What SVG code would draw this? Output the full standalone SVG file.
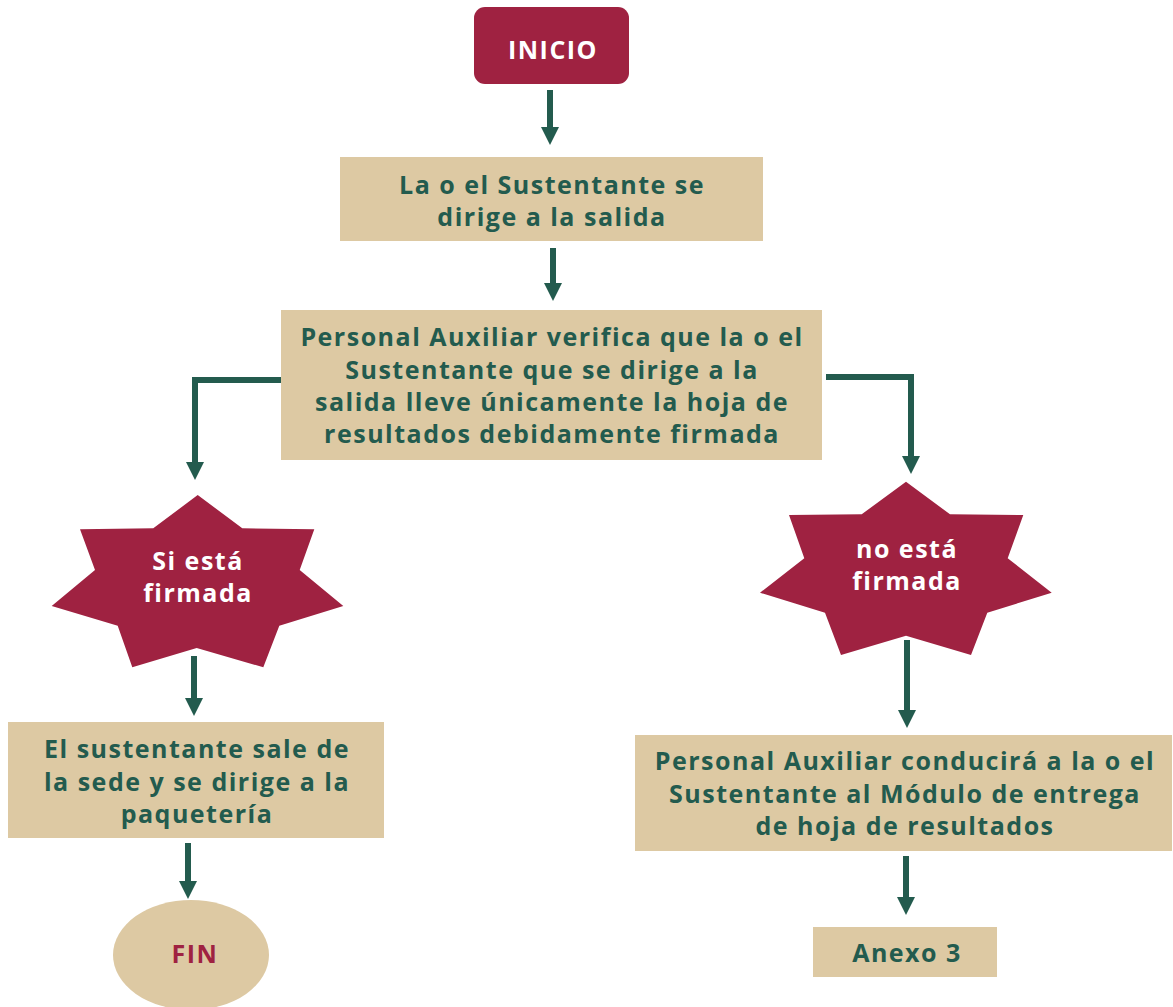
<svg xmlns="http://www.w3.org/2000/svg" width="1173" height="1007" viewBox="0 0 1173 1007">
<style>
.box{fill:#ddc9a3}
.red{fill:#9f2241}
.t{font-family:"Open Sans","Liberation Sans",sans-serif;font-weight:700;font-size:25px;letter-spacing:1.5px;fill:#235b4e;text-anchor:middle;dominant-baseline:central}
.w{fill:#ffffff}
.r{fill:#9f2241}
.c{fill:none;stroke:#235b4e;stroke-width:6}
</style>
<defs>
<marker id="ah" markerUnits="userSpaceOnUse" markerWidth="18" markerHeight="18" refX="1" refY="9" orient="auto">
<path d="M0,0 L18,9 L0,18 z" fill="#235b4e"/>
</marker>
</defs>
<rect width="1173" height="1007" fill="#ffffff"/>
<g id="connectors">
<path class="c" d="M550,90 V128" marker-end="url(#ah)"/>
<path class="c" d="M553,248 V284" marker-end="url(#ah)"/>
<path class="c" d="M281,380 H195 V463" marker-end="url(#ah)"/>
<path class="c" d="M826,377 H911 V457" marker-end="url(#ah)"/>
<path class="c" d="M194,656 V699" marker-end="url(#ah)"/>
<path class="c" d="M188,843 V882" marker-end="url(#ah)"/>
<path class="c" d="M907,640 V711" marker-end="url(#ah)"/>
<path class="c" d="M906,856 V898" marker-end="url(#ah)"/>
</g>
<g id="inicio">
<rect class="red" x="474" y="7" width="155" height="77" rx="11"/>
<text class="t w" x="553" y="49">INICIO</text>
</g>
<g id="sale">
<rect class="box" x="340" y="157" width="423" height="84"/>
<text class="t" x="552" y="184">La o el Sustentante se</text>
<text class="t" x="552" y="216">dirige a la salida</text>
</g>
<g id="verifica">
<rect class="box" x="281" y="310" width="541" height="150"/>
<text class="t" x="552" y="336">Personal Auxiliar verifica que la o el</text>
<text class="t" x="552" y="369">Sustentante que se dirige a la</text>
<text class="t" x="552" y="401">salida lleve únicamente la hoja de</text>
<text class="t" x="552" y="433">resultados debidamente firmada</text>
</g>
<g id="si">
<polygon class="red" points="197.7,495 242.3,528.3 314.3,529.3 299.7,570 343.3,606 279.3,625.7 263.3,667.3 196.7,648 132.3,667.3 117.7,625.7 51.7,606 95,570 80,529.3 153.3,528.3"/>
<text class="t w" x="198" y="560">Si está</text>
<text class="t w" x="198" y="592">firmada</text>
</g>
<g id="no">
<polygon class="red" points="906,481.7 950,514.3 1023.3,515 1007.7,558.3 1051.7,592.7 987.3,612.7 971,655 906,635.7 841,655 825,612.7 760,592.7 804.3,558.3 789,515 861.7,514.3"/>
<text class="t w" x="907" y="548">no está</text>
<text class="t w" x="907" y="580">firmada</text>
</g>
<g id="paqueteria">
<rect class="box" x="8" y="722" width="376" height="116"/>
<text class="t" x="197" y="748">El sustentante sale de</text>
<text class="t" x="197" y="781">la sede y se dirige a la</text>
<text class="t" x="197" y="813">paquetería</text>
</g>
<g id="conducira">
<rect class="box" x="635" y="735" width="537" height="116"/>
<text class="t" x="905" y="760">Personal Auxiliar conducirá a la o el</text>
<text class="t" x="905" y="793">Sustentante al Módulo de entrega</text>
<text class="t" x="905" y="825">de hoja de resultados</text>
</g>
<g id="fin">
<ellipse class="box" cx="191" cy="955" rx="78" ry="55"/>
<text class="t r" x="195" y="953">FIN</text>
</g>
<g id="anexo">
<rect class="box" x="813" y="927" width="184" height="50"/>
<text class="t" x="907" y="952">Anexo 3</text>
</g>
</svg>
